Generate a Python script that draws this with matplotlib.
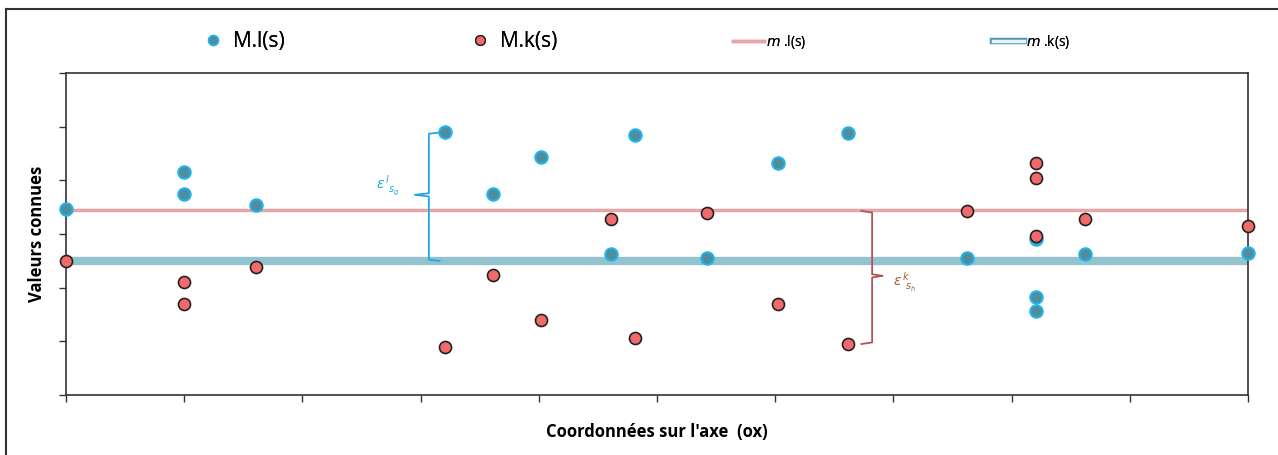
import matplotlib.pyplot as plt
import matplotlib.patheffects as pe
from matplotlib.lines import Line2D

# x positions of the known points (shared by both series)
x_l = [0, 1, 1, 1.61, 3.21, 3.61, 4.02, 4.61, 4.81, 5.42, 6.02, 6.62, 7.62, 8.21, 8.21, 8.21, 8.62, 10]
y_l = [3.47, 4.15, 3.74, 3.54, 4.90, 3.74, 4.43, 2.63, 4.84, 2.55, 4.32, 4.88, 2.55, 2.91, 1.83, 1.57, 2.63, 2.65]

x_k = [0, 1, 1, 1.61, 3.21, 3.61, 4.02, 4.61, 4.81, 5.42, 6.02, 6.62, 7.62, 8.21, 8.21, 8.21, 8.62, 10]
y_k = [2.50, 2.10, 1.70, 2.38, 0.89, 2.24, 1.40, 3.28, 1.06, 3.39, 1.70, 0.95, 3.43, 4.32, 4.04, 2.96, 3.28, 3.15]

# mean levels
m_l = 3.45
m_k = 2.50

labels = ['M.l(s)', 'M.k(s)', r'$m$ .l(s)', r'$m$ .k(s)']

plt.rcParams['font.family'] = ['Open Sans', 'DejaVu Sans']

fig = plt.figure(figsize=(12.78, 4.55), dpi=100)
ax = fig.add_axes([66/1278, 1 - 395/455, (1248 - 66)/1278, (395 - 73)/455])

ax.axhline(m_k, color='#92c3cf', lw=6, zorder=1)
ax.axhline(m_l, color='#e8a5a8', lw=2.5, zorder=1)

ax.scatter(x_l, y_l, s=80, c='#4f8c9c', edgecolors='#22b4ec', linewidths=1.5, zorder=3, clip_on=False)
ax.scatter(x_k, y_k, s=75, c='#f26a6a', edgecolors='#222222', linewidths=1.2, zorder=4, clip_on=False)

# brace for epsilon l
bx = 3.07
ax.plot([3.21, bx, bx, 2.95, bx, bx, 3.16],
        [4.90, 4.87, 3.76, 3.73, 3.70, m_k + 0.02, m_k], color='#22a8e6', lw=1.3, zorder=2)
ax.text(2.62, 3.9, r'$\varepsilon^{\,l}_{\;\;s_g}$', color='#22a8e6', fontsize=10, ha='left', va='center')

# brace for epsilon k
rx = 6.82
ax.plot([6.73, rx, rx, 6.91, rx, rx, 6.73],
        [m_l - 0.02, m_l - 0.05, 2.25, 2.22, 2.19, 0.98, 0.95], color='#b5525a', lw=1.3, zorder=2)
ax.text(7.0, 2.1, r'$\varepsilon^{\,k}_{\;\;s_h}$', color='#a86030', fontsize=10, ha='left', va='center')

ax.set_xlim(0, 10)
ax.set_ylim(0, 6)
ax.set_xticks(range(0, 11))
ax.set_yticks(range(0, 7))
ax.set_xticklabels([])
ax.set_yticklabels([])
ax.tick_params(direction='out', length=5, width=1, colors='#333333')
for sp in ax.spines.values():
    sp.set_color('#333333')
    sp.set_linewidth(1.2)

ax.set_xlabel("Coordonnées sur l'axe  (ox)", fontsize=12, fontweight='bold', labelpad=12)
ax.set_ylabel('Valeurs connues', fontsize=12, fontweight='bold', labelpad=6)

# legend: one small legend per entry, placed like the original
handles = [
    Line2D([], [], ls='none', marker='o', ms=7, mfc='#4f8c9c', mec='#22b4ec', mew=1.2),
    Line2D([], [], ls='none', marker='o', ms=7, mfc='#f26a6a', mec='#222222', mew=1.0),
    Line2D([], [], color='#e8a5a8', lw=2.5),
    Line2D([], [], color='#e6f3f7', lw=2.5,
           path_effects=[pe.Stroke(linewidth=4.5, foreground='#4a9ab0'), pe.Normal()]),
]
anchors = [205, 472, 733, 993]
sizes = [15, 15, 10, 10]
hlen = [0.8, 0.8, 2.2, 2.2]
hpad = [0.55, 0.55, 0.2, 0.2]
for h, lab, x0, fs, hl, hp in zip(handles, labels, anchors, sizes, hlen, hpad):
    lg = fig.legend([h], [lab], loc='center left', bbox_to_anchor=(x0/1278, 1 - 42/455),
                    frameon=False, fontsize=fs, handlelength=hl, handletextpad=hp,
                    borderaxespad=0, borderpad=0)
    fig.add_artist(lg)

# outer frame lines
fig.add_artist(Line2D([6/1278, 6/1278], [0, 1 - 9/455], color='#333333', lw=1.5))
fig.add_artist(Line2D([6/1278, 1], [1 - 9/455, 1 - 9/455], color='#333333', lw=1.5))

fig.savefig('out.png', dpi=100)
